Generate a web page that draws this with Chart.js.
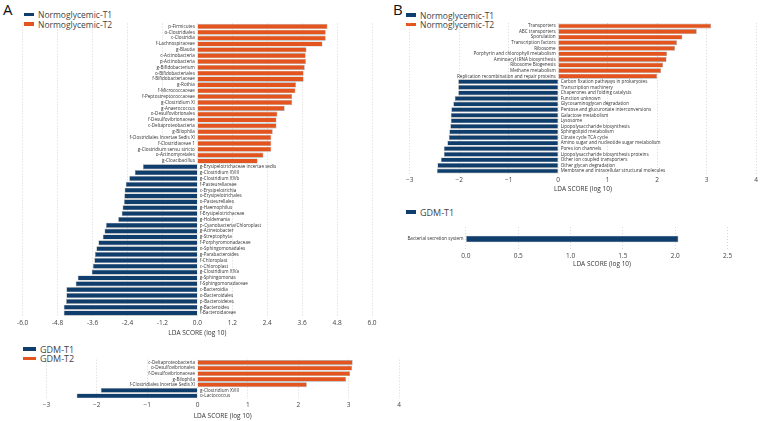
<!DOCTYPE html>
<html>
<head>
<meta charset="utf-8">
<script src="https://cdn.jsdelivr.net/npm/chart.js@4.4.0/dist/chart.umd.min.js"></script>
<style>
  body { margin: 0; width: 760px; height: 421px; overflow: hidden; background: #fff; position: relative; font-family: "Open Sans", sans-serif; }
  canvas { position: absolute; }
  .tag { position: absolute; font-size: 15px; line-height: 15px; color: #111; }
  .leg { position: absolute; font-size: 8.5px; line-height: 10px; color: #444; white-space: nowrap; }
  .leg i { display: inline-block; width: 10px; height: 3.5px; margin-right: 4px; vertical-align: middle; position: relative; top: -1px; }
</style>
</head>
<body>
<div class="tag" style="left:3px;top:2px">A</div>
<div class="tag" style="left:393px;top:2px">B</div>

<div class="leg" style="left:24px;top:10px"><i style="background:#0f3d6c"></i>Normoglycemic-T1</div>
<div class="leg" style="left:24px;top:19.5px"><i style="background:#e3541e"></i>Normoglycemic-T2</div>
<div class="leg" style="left:23px;top:344.5px;font-size:9px"><i style="background:#0f3d6c;width:13px"></i>GDM-T1</div>
<div class="leg" style="left:23px;top:354px;font-size:9px"><i style="background:#e3541e;width:13px"></i>GDM-T2</div>
<div class="leg" style="left:406px;top:10.5px"><i style="background:#0f3d6c"></i>Normoglycemic-T1</div>
<div class="leg" style="left:406px;top:20px"><i style="background:#e3541e"></i>Normoglycemic-T2</div>
<div class="leg" style="left:406px;top:207.5px;font-size:9px"><i style="background:#0f3d6c"></i>GDM-T1</div>

<canvas id="taxaNormo" width="390" height="340" style="left:0;top:0"></canvas>
<canvas id="taxaGdm" width="420" height="81" style="left:0;top:340px"></canvas>
<canvas id="pathNormo" width="370" height="198" style="left:390px;top:0"></canvas>
<canvas id="pathGdm" width="370" height="70" style="left:390px;top:200px"></canvas>

<script>
// panel A, normoglycemic taxa
const taxaNormo = [
  'p-Firmicutes', 'o-Clostridiales', 'c-Clostridia', 'f-Lachnospiraceae', 'g-Blautia',
  'c-Actinobacteria', 'p-Actinobacteria', 'g-Bifidobacterium', 'o-Bifidobacteriales', 'f-Bifidobacteriaceae',
  'g-Rothia', 'f-Micrococcaceae', 'f-Peptostreptococcaceae', 'g-Clostridium XI', 'g-Anaerococcus',
  'o-Desulfovibrionales', 'f-Desulfovibrionaceae', 'c-Deltaproteobacteria', 'g-Bilophila', 'f-Clostridiales Incertae Sedis XI',
  'f-Clostridiaceae 1', 'g-Clostridium sensu stricto', 'o-Actinomycetales', 'g-Cloacibacillus',
  'g-Erysipelotrichaceae incertae sedis', 'g-Clostridium XVIII', 'g-Clostridium XIVb', 'f-Pasteurellaceae', 'c-Erysipelotrichia',
  'o-Erysipelotrichales', 'o-Pasteurellales', 'g-Haemophilus', 'f-Erysipelotrichaceae', 'g-Holdemania',
  'p-Cyanobacteria/Chloroplast', 'g-Acinetobacter', 'g-Streptophyta', 'f-Porphyromonadaceae', 'o-Sphingomonadales',
  'g-Parabacteroides', 'f-Chloroplast', 'c-Chloroplast', 'g-Clostridium XIVa', 'g-Sphingomonas',
  'f-Sphingomonadaceae', 'c-Bacteroidia', 'o-Bacteroidales', 'p-Bacteroidetes', 'g-Bacteroides', 'f-Bacteroidaceae'
];
const ldaTaxaNormo = [
  4.47, 4.41, 4.41, 4.30, 3.75, 3.72, 3.73, 3.69, 3.65, 3.65,
  3.39, 3.37, 3.26, 3.26, 3.00, 2.75, 2.72, 2.72, 2.59, 2.54,
  2.54, 2.54, 2.27, 2.07,
  -1.87, -2.15, -2.34, -2.46, -2.50, -2.51, -2.52, -2.57, -2.60, -2.72,
  -3.14, -3.19, -3.25, -3.40, -3.47, -3.52, -3.54, -3.59, -3.63, -4.11,
  -4.18, -4.50, -4.50, -4.51, -4.59, -4.59
];
const ticksTaxaNormo = [-6, -4.8, -3.6, -2.4, -1.2, 0, 1.2, 2.4, 3.6, 4.8, 6];

// panel A, GDM taxa
const taxaGdm = [
  'c-Deltaproteobacteria', 'o-Desulfovibrionales', 'f-Desulfovibrionaceae', 'g-Bilophila',
  'f-Clostridiales Incertae Sedis XI', 'g-Clostridium XVIII', 'o-Lactococcus'
];
const ldaTaxaGdm = [3.08, 3.07, 3.03, 2.95, 2.17, -1.92, -2.40];
const ticksTaxaGdm = [-3, -2, -1, 0, 1, 2, 3, 4];

// panel B, normoglycemic pathways
const pathNormo = [
  'Transporters', 'ABC transporters', 'Sporulation', 'Transcription factors', 'Ribosome',
  'Porphyrin and chlorophyll metabolism', 'Aminoacyl tRNA biosynthesis', 'Ribosome Biogenesis', 'Methane metabolism',
  'Replication recombination and repair proteins',
  'Carbon fixation pathways in prokaryotes', 'Transcription machinery', 'Chaperones and folding catalysts', 'Function unknown',
  'Glycosaminoglycan degradation', 'Pentose and glucuronate interconversions', 'Galactose metabolism', 'Lysosome',
  'Lipopolysaccharide biosynthesis', 'Sphingolipid metabolism', 'Citrate cycle TCA cycle',
  'Amino sugar and nucleotide sugar metabolism', 'Pores ion channels', 'Lipopolysaccharide biosynthesis proteins',
  'Other ion coupled transporters', 'Other glycan degradation', 'Membrane and intracellular structural molecules'
];
const ldaPathNormo = [
  3.09, 2.80, 2.51, 2.40, 2.36, 2.20, 2.19, 2.12, 2.08, 2.00,
  -2.02, -2.02, -2.02, -2.09, -2.12, -2.16, -2.17, -2.17, -2.18, -2.20,
  -2.21, -2.24, -2.31, -2.31, -2.37, -2.44, -2.45
];
const ticksPathNormo = [-3, -2, -1, 0, 1, 2, 3, 4];

// panel B, GDM pathways (only GDM-T1)
const pathGdm = ['Bacterial secretion system'];
const ldaPathGdm = [2.03];
const ticksPathGdm = [0, 0.5, 1, 1.5, 2, 2.5];

const BLUE = '#0f3d6c';
const ORANGE = '#e3541e';
const FONT = '"Open Sans", sans-serif';

// names sit on the opposite side of zero from their bar
const barNames = {
    id: 'barNames',
    afterDatasetsDraw(chart) {
        const ctx = chart.ctx;
        const x0 = chart.scales.x.getPixelForValue(0);
        const vals = chart.data.datasets[0].data;
        ctx.save();
        ctx.font = '4.6px ' + FONT;
        ctx.fillStyle = '#333';
        ctx.textBaseline = 'middle';
        chart.getDatasetMeta(0).data.forEach((bar, i) => {
            const right = vals[i] > 0;
            ctx.textAlign = right ? 'right' : 'left';
            ctx.fillText(chart.data.labels[i], right ? x0 - 2.5 : x0 + 2.5, bar.y);
        });
        ctx.restore();
    }
};

// box: canvas position on page, area: wanted plot area on page
function drawPanel(id, box, area, labels, values, colors, ticks, opt) {
    const axisH = opt.tickPad + 6.5 * 1.2 + 6.5;
    new Chart(document.getElementById(id), {
        type: 'bar',
        data: {
            labels: labels,
            datasets: [{
                data: values,
                backgroundColor: colors,
                borderColor: 'rgba(70,70,70,0.5)',
                borderWidth: 0.6,
                barPercentage: opt.barPct,
                categoryPercentage: 1
            }]
        },
        options: {
            indexAxis: 'y',
            responsive: false,
            animation: false,
            layout: {
                padding: {
                    left: area.l - box.left,
                    right: box.left + box.width - area.r,
                    top: area.t - box.top,
                    bottom: Math.max(0, box.top + box.height - area.b - axisH)
                }
            },
            plugins: { legend: { display: false }, tooltip: { enabled: false } },
            scales: {
                y: { display: false },
                x: {
                    min: opt.min,
                    max: opt.max,
                    afterBuildTicks: s => { s.ticks = ticks.map(v => ({ value: v })); },
                    grid: { color: '#c4c4c4', lineWidth: 0.7, drawTicks: false },
                    border: { display: false, dash: [1, 2] },
                    ticks: {
                        padding: opt.tickPad,
                        color: '#444',
                        font: { size: 6.5, family: FONT },
                        callback: v => opt.fmt(v)
                    },
                    title: {
                        display: true,
                        text: 'LDA SCORE (log 10)',
                        color: '#333',
                        font: { size: 6.5, family: FONT, lineHeight: 1 },
                        padding: { top: 0, bottom: 0 }
                    }
                }
            }
        },
        plugins: [barNames]
    });
}

const oneDecimal = v => (v < 0 ? '-' : '') + Math.abs(v).toFixed(1);
const whole = v => (v < 0 ? '\u2212' : '') + Math.abs(v).toFixed(0);
const byGroup = vals => vals.map(v => v > 0 ? ORANGE : BLUE);

drawPanel('taxaNormo', { left: 0, top: 0, width: 390, height: 340 },
    { l: 22.7, r: 372, t: 23.5, b: 319 },
    taxaNormo, ldaTaxaNormo, byGroup(ldaTaxaNormo), ticksTaxaNormo,
    { min: -6, max: 6, tickPad: 3, barPct: 0.88, fmt: oneDecimal });

drawPanel('taxaGdm', { left: 0, top: 340, width: 420, height: 81 },
    { l: 46.4, r: 399, t: 359.7, b: 401.7 },
    taxaGdm, ldaTaxaGdm, byGroup(ldaTaxaGdm), ticksTaxaGdm,
    { min: -3, max: 4, tickPad: 3, barPct: 0.88, fmt: whole });

drawPanel('pathNormo', { left: 390, top: 0, width: 370, height: 198 },
    { l: 409.7, r: 758.3, t: 23.2, b: 175.8 },
    pathNormo, ldaPathNormo, byGroup(ldaPathNormo), ticksPathNormo,
    { min: -3, max: 4, tickPad: 2, barPct: 0.88, fmt: whole });

drawPanel('pathGdm', { left: 390, top: 200, width: 370, height: 70 },
    { l: 445, r: 759, t: 227, b: 252 },
    pathGdm, ldaPathGdm, ldaPathGdm.map(() => BLUE), ticksPathGdm,
    { min: -0.2, max: 2.8, tickPad: 1, barPct: 0.28, fmt: v => v.toFixed(1) });
</script>
</body>
</html>
